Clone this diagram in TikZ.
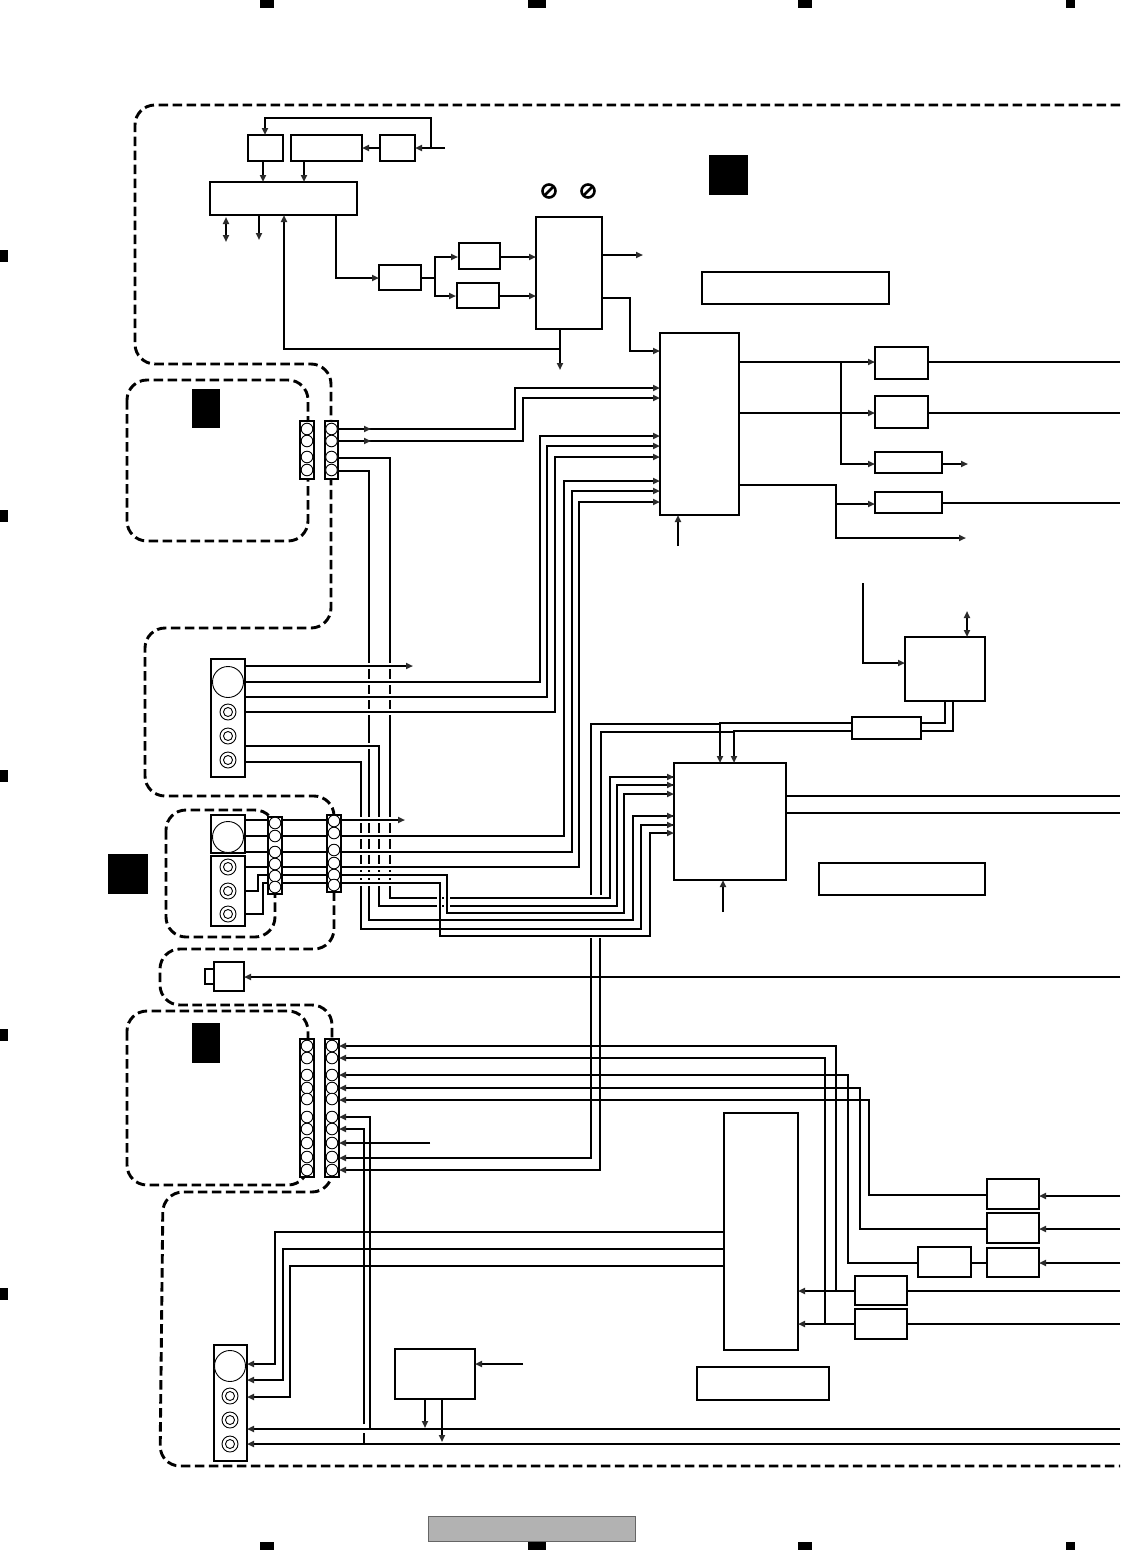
\documentclass[tikz,border=0pt]{standalone}
\usetikzlibrary{arrows.meta}
\definecolor{tipgray}{HTML}{2B2B2B}
\tikzset{
  box/.style={draw=black,fill=white,line width=1.9pt,inner sep=0pt,outer sep=0pt,line join=miter},
  block/.style={box,line width=1.6pt},
  wire/.style={draw=black,line width=1.9pt,line join=miter},
  arr/.style={-{Triangle[length=7pt,width=6pt,color=tipgray]}},
  dblarr/.style={{Triangle[length=7pt,width=6pt,color=tipgray]}-{Triangle[length=7pt,width=6pt,color=tipgray]}},
  zone/.style={draw=black,line width=2.9pt,dash pattern=on 9.5pt off 4.5pt,rounded corners=20pt},
  pinring/.style={draw=black,fill=white,line width=0.9pt},
  blackmark/.style={fill=black,draw=none,inner sep=0pt,outer sep=0pt},
  gapstrip/.style={fill=white,draw=none},
}
\newcommand{\bx}[6][box]{\node[#1,minimum width=#5pt-#3pt,minimum height=#6pt-#4pt,anchor=north west] (#2) at (#3,#4) {};}
\newcommand{\pins}[2]{\foreach \py in {#2} \draw[pinring] (#1,\py) circle[radius=5.8];}
\newcommand{\jack}[2]{\draw[pinring] (#1,#2) circle[radius=8]; \draw[pinring] (#1,#2) circle[radius=4.5];}
\newcommand{\bigjack}[2]{\draw[pinring] (#1,#2) circle[radius=15.5];}
\newcommand{\noentry}[2]{\draw[line width=2.6pt] (#1,#2) circle[radius=6.5]; \draw[line width=2.6pt] (#1-4.5,#2+4.5) -- (#1+4.5,#2-4.5);}
\begin{document}
\begin{tikzpicture}[x=1pt,y=-1pt]
\useasboundingbox (0,0) rectangle (1120,1550);
\coordinate (R) at (1120,0);
% crop marks
\foreach \x/\w in {260/14,528/18,798/14,1066/9}{
  \fill[black] (\x,0) rectangle (\x+\w,8);
  \fill[black] (\x,1542) rectangle (\x+\w,1550);}
\foreach \y in {250,510,770,1029,1288} \fill[black] (0,\y) rectangle (8,\y+12);
% gray bar
\node[fill=black!30,draw=black!60,line width=1pt,minimum width=207pt,minimum height=25pt,anchor=north west,inner sep=0,outer sep=0] (bar) at (428.5,1516.5) {};
% black squares
\node[blackmark,minimum width=39pt,minimum height=40pt,anchor=north west] (m1) at (709,155) {};
\node[blackmark,minimum width=28pt,minimum height=39pt,anchor=north west] (m2) at (192,389) {};
\node[blackmark,minimum width=40pt,minimum height=40pt,anchor=north west] (m3) at (108,854) {};
\node[blackmark,minimum width=28pt,minimum height=40pt,anchor=north west] (m4) at (192,1023) {};
% zones
\draw[zone] (1120,105) -- (135,105) -- (135,364) -- (331,364) -- (331,628) -- (145,628) -- (145,796) -- (334,796) -- (334,949) -- (160,949) -- (160,1005) -- (332,1005) -- (332,1192) -- (163,1192) -- (160,1466) -- (1120,1466);
\draw[zone] (127,380) rectangle (308,541);
\draw[zone] (166,810) rectangle (275,937);
\draw[zone] (127,1011) rectangle (308,1185);
% boxes
\bx{a1}{248}{135}{283}{161}
\bx{a2}{291}{135}{362}{161}
\bx{a3}{380}{135}{415}{161}
\bx{a4}{210}{182}{357}{215}
\bx{a5}{379}{265}{421}{290}
\bx{a6}{459}{243}{500}{269}
\bx{a7}{457}{283}{499}{308}
\bx{a8}{536}{217}{602}{329}
\bx{a9}{702}{272}{889}{304}
\bx{b0}{660}{333}{739}{515}
\bx{b1}{875}{347}{928}{379}
\bx{b2}{875}{396}{928}{428}
\bx{b3}{875}{452}{942}{473}
\bx{b4}{875}{492}{942}{513}
\bx{c1}{905}{637}{985}{701}
\bx{c2}{852}{717}{921}{739}
\bx{c3}{674}{763}{786}{880}
\bx{c4}{819}{863}{985}{895}
\bx{d0}{724}{1113}{798}{1350}
\bx{d1}{697}{1367}{829}{1400}
\bx{d2}{987}{1179}{1039}{1209}
\bx{d3}{987}{1213}{1039}{1243}
\bx{d4}{987}{1248}{1039}{1277}
\bx{d5}{918}{1247}{971}{1277}
\bx{d6}{855}{1276}{907}{1305}
\bx{d7}{855}{1309}{907}{1339}
\bx{d8}{395}{1349}{475}{1399}
% connector blocks
\bx[block]{p1}{300}{421}{314}{479}
\bx[block]{p2}{325}{421}{338}{479}
\bx[block]{p3}{268}{817}{282}{894}
\bx[block]{p4}{327}{815}{341}{892}
\bx[block]{p5}{300}{1039}{314}{1177}
\bx[block]{p6}{325}{1039}{339}{1177}
% jack panels
\bx{j1}{211}{659}{245}{777}
\bx{j2}{211}{815}{245}{853}
\bx{j3}{211}{856}{245}{926}
\bx{j4}{214}{1345}{247}{1461}
\bx{plug}{214}{962}{244}{991}
\bx{plugb}{205}{969}{214}{984}
\pins{307}{429,441,457,470}
\pins{331.5}{429,441,457,470}
\pins{275}{823,836,852,864,876,887}
\pins{334}{821,833,850,863,875,885}
\pins{307}{1046,1058,1075,1088,1099,1117,1129,1143,1157,1170}
\pins{332}{1046,1058,1075,1088,1099,1117,1129,1143,1157,1170}
\bigjack{228}{682}\jack{228}{712}\jack{228}{736}\jack{228}{760}
\bigjack{228}{837}\jack{228}{867}\jack{228}{891}\jack{228}{914}
\bigjack{230}{1366}\jack{230}{1396}\jack{230}{1420}\jack{230}{1444}
\noentry{549}{191}\noentry{588}{191}
% --- top section
\coordinate (fa3) at (445,148);
\draw[wire,arr] (fa3) -- (a3.east |- 0,148);
\draw[wire,arr] (431,148) -- (431,118) -- (265,118) -- (a1.north -| 265,0);
\draw[wire,arr] (a3.west |- 0,148) -- (a2.east |- 0,148);
\draw[wire,arr] (a1.south -| 263,0) -- (a4.north -| 263,0);
\draw[wire,arr] (a2.south -| 304,0) -- (a4.north -| 304,0);
\draw[wire,dblarr] (226,217) -- (226,242);
\draw[wire,arr] (a4.south -| 259,0) -- (259,240);
\draw[wire,arr] (560,349) -- (284,349) -- (a4.south -| 284,0);
\draw[wire,arr] (a8.south -| 560,0) -- (560,370);
\draw[wire,arr] (a4.south -| 336,0) -- (336,278) -- (a5.west |- 0,278);
\draw[wire] (a5.east |- 0,278) -- (435,278);
\draw[wire,arr] (435,278) -- (435,257) -- (458,257);
\draw[wire,arr] (435,278) -- (435,296) -- (456,296);
\draw[wire,arr] (a6.east |- 0,257) -- (a8.west |- 0,257);
\draw[wire,arr] (a7.east |- 0,296) -- (a8.west |- 0,296);
\draw[wire,arr] (a8.east |- 0,255) -- (643,255);
\draw[wire,arr] (a8.east |- 0,298) -- (630,298) -- (630,351) -- (b0.west |- 0,351);
\draw[wire,arr] (b0.east |- 0,362) -- (b1.west |- 0,362);
\draw[wire,arr] (b0.east |- 0,413) -- (b2.west |- 0,413);
\draw[wire,arr] (841,362) -- (841,464) -- (b3.west |- 0,464);
\draw[wire,arr] (b3.east |- 0,464) -- (968,464);
\draw[wire] (b1.east |- 0,362) -- (R |- 0,362);
\draw[wire] (b2.east |- 0,413) -- (R |- 0,413);
\draw[wire,arr] (b0.east |- 0,485) -- (836,485) -- (836,538) -- (966,538);
\draw[wire,arr] (836,504) -- (b4.west |- 0,504);
\draw[wire] (b4.east |- 0,503) -- (R |- 0,503);
\draw[wire,arr] (678,546) -- (b0.south -| 678,0);
% top connector to b0
\draw[wire,arr] (p2.east |- 0,429) -- (515,429) -- (515,388) -- (b0.west |- 0,388);
\draw[wire,arr] (p2.east |- 0,441) -- (523,441) -- (523,398) -- (b0.west |- 0,398);
\draw[wire,arr] (355,429) -- (371,429);
\draw[wire,arr] (355,441) -- (371,441);
% long verticals (drawn first so the horizontals break them)
\draw[wire] (p2.east |- 0,458) -- (390,458) -- (390,898) -- (610,898) -- (610,777) -- (c3.west |- 0,777);
\draw[wire] (p2.east |- 0,471) -- (369,471) -- (369,920) -- (633,920) -- (633,816) -- (c3.west |- 0,816);
\draw[wire] (379,746) -- (379,906) -- (617,906) -- (617,785) -- (c3.west |- 0,785);
\draw[wire] (j1.east |- 0,762) -- (361,762) -- (361,929) -- (641,929) -- (641,825) -- (c3.west |- 0,825);
\foreach \yy in {666,682,697,712,820,836,852,867,875,883}{
  \fill[gapstrip] (356,\yy-2.6) rectangle (395,\yy+2.6);}
\fill[gapstrip] (365,743.2) rectangle (373,748.8);
\draw[wire] (j1.east |- 0,746) -- (379,746) -- (379,750);
% arrowheads on c3 input
\foreach \yy in {777,785,816,825}{\draw[wire,arr] (660,\yy) -- (c3.west |- 0,\yy);}
% jack panel A
\draw[wire,arr] (j1.east |- 0,666) -- (413,666);
\draw[wire,arr] (j1.east |- 0,682) -- (540,682) -- (540,436) -- (b0.west |- 0,436);
\draw[wire,arr] (j1.east |- 0,697) -- (547,697) -- (547,446) -- (b0.west |- 0,446);
\draw[wire,arr] (j1.east |- 0,712) -- (555,712) -- (555,457) -- (b0.west |- 0,457);
% middle connector
\draw[wire] (j2.east |- 0,820) -- (p3.west |- 0,820);
\draw[wire] (j2.east |- 0,836) -- (p3.west |- 0,836);
\draw[wire] (j2.east |- 0,852) -- (p3.west |- 0,852);
\draw[wire] (j3.east |- 0,867) -- (p3.west |- 0,867);
\draw[wire] (j3.east |- 0,891) -- (258,891) -- (258,875) -- (p3.west |- 0,875);
\draw[wire] (j3.east |- 0,914) -- (263,914) -- (263,883) -- (p3.west |- 0,883);
\foreach \yy in {820,836,852,867,875,883}{\draw[wire] (p3.east |- 0,\yy) -- (p4.west |- 0,\yy);}
\draw[wire,arr] (p4.east |- 0,820) -- (405,820);
\draw[wire,arr] (p4.east |- 0,836) -- (564,836) -- (564,481) -- (b0.west |- 0,481);
\draw[wire,arr] (p4.east |- 0,852) -- (572,852) -- (572,491) -- (b0.west |- 0,491);
\draw[wire,arr] (p4.east |- 0,867) -- (579,867) -- (579,502) -- (b0.west |- 0,502);
% small breaks beside 440 and 447
\fill[gapstrip] (437,895) rectangle (442.4,909);
\fill[gapstrip] (444,895) rectangle (450,909);
\draw[wire,arr] (p4.east |- 0,875) -- (447,875) -- (447,913) -- (624,913) -- (624,794) -- (c3.west |- 0,794);
\draw[wire,arr] (p4.east |- 0,883) -- (440,883) -- (440,936) -- (650,936) -- (650,833) -- (c3.west |- 0,833);
% upper-right bus
\draw[wire] (591,895) -- (591,724) -- (720,724);
\draw[wire,arr] (c2.west |- 0,723) -- (720,723) -- (c3.north -| 720,0);
\draw[wire] (601,895) -- (601,732) -- (734,732);
\draw[wire,arr] (c2.west |- 0,731) -- (734,731) -- (c3.north -| 734,0);
\draw[wire] (c1.south -| 945,0) -- (945,723) -- (c2.east |- 0,723);
\draw[wire] (c1.south -| 953,0) -- (953,731) -- (c2.east |- 0,731);
\draw[wire,arr] (863,583) -- (863,663) -- (c1.west |- 0,663);
\draw[wire,dblarr] (967,611) -- (c1.north -| 967,0);
\draw[wire] (c3.east |- 0,796) -- (R |- 0,796);
\draw[wire] (c3.east |- 0,813) -- (R |- 0,813);
\draw[wire,arr] (723,912) -- (c3.south -| 723,0);
\draw[wire,arr] (R |- 0,977) -- (plug.east |- 0,977);
% bottom connector
\draw[wire,arr] (591,938) -- (591,1158) -- (p6.east |- 0,1158);
\draw[wire,arr] (600,938) -- (600,1170) -- (p6.east |- 0,1170);
\draw[wire,arr] (430,1143) -- (p6.east |- 0,1143);
\draw[wire,arr] (836,1291) -- (836,1046) -- (p6.east |- 0,1046);
\draw[wire,arr] (825,1324) -- (825,1058) -- (p6.east |- 0,1058);
\draw[wire,arr] (d5.west |- 0,1263) -- (848,1263) -- (848,1075) -- (p6.east |- 0,1075);
\draw[wire,arr] (d3.west |- 0,1229) -- (860,1229) -- (860,1088) -- (p6.east |- 0,1088);
\draw[wire,arr] (d2.west |- 0,1195) -- (869,1195) -- (869,1100) -- (p6.east |- 0,1100);
\draw[wire] (d5.east |- 0,1263) -- (d4.west |- 0,1263);
\draw[wire,arr] (R |- 0,1196) -- (d2.east |- 0,1196);
\draw[wire,arr] (R |- 0,1229) -- (d3.east |- 0,1229);
\draw[wire,arr] (R |- 0,1263) -- (d4.east |- 0,1263);
\draw[wire,arr] (d6.west |- 0,1291) -- (d0.east |- 0,1291);
\draw[wire,arr] (d7.west |- 0,1324) -- (d0.east |- 0,1324);
\draw[wire] (d6.east |- 0,1291) -- (R |- 0,1291);
\draw[wire] (d7.east |- 0,1324) -- (R |- 0,1324);
\draw[wire,arr] (370,1429) -- (370,1117) -- (p6.east |- 0,1117);
\draw[wire,arr] (364,1424) -- (364,1129) -- (p6.east |- 0,1129);
\draw[wire] (364,1433) -- (364,1444);
\draw[wire,arr] (R |- 0,1429) -- (j4.east |- 0,1429);
\draw[wire,arr] (R |- 0,1444) -- (j4.east |- 0,1444);
\draw[wire,arr] (d0.west |- 0,1232) -- (275,1232) -- (275,1364) -- (j4.east |- 0,1364);
\draw[wire,arr] (d0.west |- 0,1249) -- (283,1249) -- (283,1380) -- (j4.east |- 0,1380);
\draw[wire,arr] (d0.west |- 0,1266) -- (290,1266) -- (290,1397) -- (j4.east |- 0,1397);
\draw[wire,arr] (523,1364) -- (d8.east |- 0,1364);
\draw[wire,arr] (d8.south -| 425,0) -- (425,1428);
\draw[wire,arr] (d8.south -| 442,0) -- (442,1442);
\end{tikzpicture}
\end{document}
